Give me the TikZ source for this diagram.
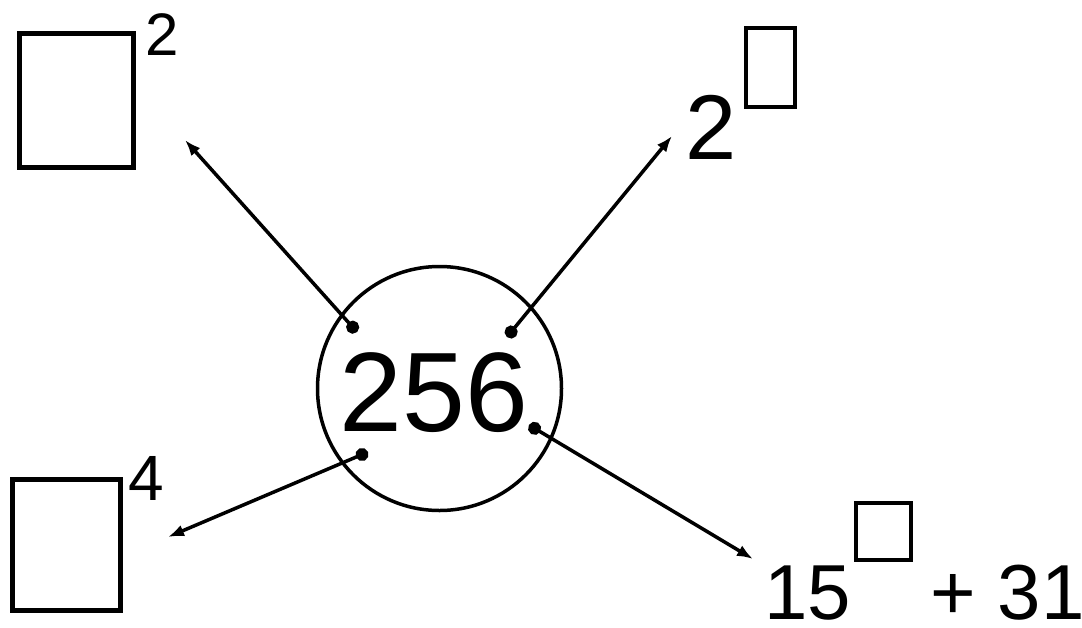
\documentclass[tikz,border=0pt]{standalone}
\usepackage{fontspec}
\setmainfont{Liberation Sans}
\usepackage{tikz}
\usetikzlibrary{arrows.meta}

\newcommand{\fsize}[1]{\fontsize{#1}{#1}\selectfont}

\begin{document}
\begin{tikzpicture}[x=1pt, y=-1pt,
	box/.style={draw, line width=5pt, inner sep=0pt},
	smallbox/.style={draw, line width=4pt, inner sep=0pt},
	txt/.style={inner sep=0pt},
	link/.style={line width=3.5pt, {Circle[length=13pt]}-{Latex[length=16pt, width=12pt]}}]
	\useasboundingbox (0, 0) rectangle (1082, 627);
	
	\node [draw, circle, line width=3.5pt, minimum size=244pt] (num) at (439.5, 388.5) {};
	\node [txt, font=\fsize{113}] (numtext) at (434, 392.5) {256};
	
	% top left
	\node [box, minimum width=114pt, minimum height=134pt] (sq) at (76.5, 100.5) {};
	\node [txt, font=\fsize{60}] (sqexp) at (162, 34.5) {2};
	
	% top right
	\node [txt, font=\fsize{92}] (pbase) at (711.5, 127) {2};
	\node [smallbox, minimum width=49pt, minimum height=79pt] (pexp) at (770.5, 67.5) {};
	
	% bottom left
	\node [box, minimum width=108pt, minimum height=131pt] (qd) at (66.5, 545) {};
	\node [txt, font=\fsize{64}] (qdexp) at (146, 478) {4};
	
	% bottom right
	\node [txt, font=\fsize{78}] (lbase) at (807.5, 593) {15};
	\node [smallbox, minimum width=55pt, minimum height=57pt] (lexp) at (883.5, 531.5) {};
	\node [txt, font=\fsize{78}] (lrest) at (1007.5, 593) {+ 31};
	
	\coordinate (fromsq) at (357, 332);
	\coordinate (frompow) at (507, 337);
	\coordinate (fromqd) at (368, 452);
	\coordinate (fromlin) at (529, 425);
	\coordinate (tosq) at (185, 140);
	\coordinate (topow) at (672, 136);
	\coordinate (toqd) at (168, 537);
	\coordinate (tolin) at (753, 559);
	
	\draw [link] (fromsq) -- (tosq);
	\draw [link] (frompow) -- (topow);
	\draw [link] (fromqd) -- (toqd);
	\draw [link] (fromlin) -- (tolin);
\end{tikzpicture}
\end{document}
